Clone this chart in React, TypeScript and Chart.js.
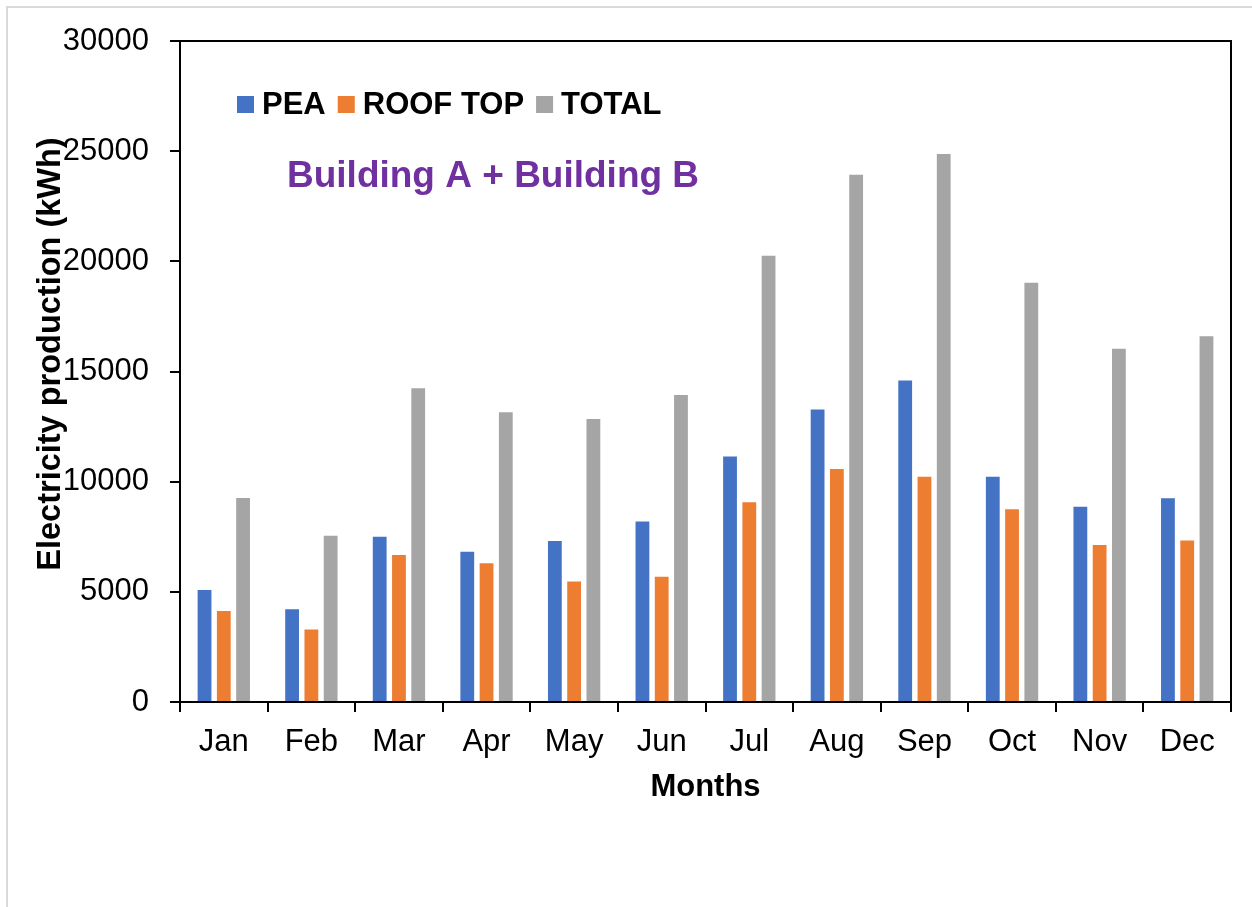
import React, { useEffect, useRef } from "react";
import { Chart, registerables } from "chart.js";

Chart.register(...registerables);

const months = ["Jan", "Feb", "Mar", "Apr", "May", "Jun", "Jul", "Aug", "Sep", "Oct", "Nov", "Dec"];
const peaValues = [5130, 4250, 7550, 6870, 7350, 8240, 11190, 13320, 14640, 10270, 8910, 9290];
const roofTopValues = [4170, 3340, 6720, 6340, 5520, 5730, 9110, 10620, 10270, 8790, 7170, 7380];
const totalValues = [9300, 7590, 14280, 13200, 12890, 13980, 20300, 23970, 24920, 19070, 16080, 16650];
const yTickValues = [0, 5000, 10000, 15000, 20000, 25000, 30000];
const seriesNames = ["PEA", "ROOF TOP", "TOTAL"];
const seriesColors = ["#4472C4", "#ED7D31", "#A5A5A5"];
const chartSubtitle = "Building A + Building B";
const yTitle = "Electricity production (kWh)";
const xTitle = "Months";

const FONT = "'Liberation Sans', Arial, sans-serif";

const overlayPlugin = {
  id: "overlay",
  afterDraw(chart: any) {
    const ctx = chart.ctx;
    const a = chart.chartArea;
    ctx.save();
    // plot box
    ctx.strokeStyle = "#000";
    ctx.lineWidth = 2;
    ctx.strokeRect(a.left, a.top, a.right - a.left, a.bottom - a.top);

    // legend
    ctx.font = `bold 31px ${FONT}`;
    ctx.textBaseline = "middle";
    ctx.textAlign = "left";
    let x = 237;
    const cy = 104;
    chart.data.datasets.forEach((ds: any) => {
      ctx.fillStyle = ds.backgroundColor;
      ctx.fillRect(x, cy - 8, 17, 17);
      x += 25;
      ctx.fillStyle = "#000";
      ctx.fillText(ds.label, x, cy + 1);
      x += ctx.measureText(ds.label).width + 12;
    });

    // subtitle
    ctx.font = `bold 37px ${FONT}`;
    ctx.fillStyle = "#7030A0";
    ctx.textBaseline = "alphabetic";
    ctx.fillText(chartSubtitle, 287, 187);

    // y title
    ctx.translate(51, 354);
    ctx.rotate(-Math.PI / 2);
    ctx.font = `bold 32.5px ${FONT}`;
    ctx.fillStyle = "#000";
    ctx.textAlign = "center";
    ctx.textBaseline = "middle";
    ctx.fillText(yTitle, 0, 0);
    ctx.restore();
  },
};

export default function App() {
  const ref = useRef<HTMLCanvasElement | null>(null);

  useEffect(() => {
    if (!ref.current) return;
    const datasets = [peaValues, roofTopValues, totalValues].map((vals, i) => ({
      label: seriesNames[i],
      data: vals,
      backgroundColor: seriesColors[i],
      borderColor: "rgba(255,255,255,0.7)",
      borderWidth: 1,
      categoryPercentage: 0.66,
      barPercentage: 0.82,
    }));
    const chart = new Chart(ref.current, {
      type: "bar",
      data: { labels: months, datasets },
      options: {
        responsive: false,
        animation: false,
        devicePixelRatio: 1,
        layout: { padding: { top: 41, right: 21, left: 0, bottom: 101 } },
        plugins: {
          legend: { display: false },
          tooltip: { enabled: false },
        },
        scales: {
          x: {
            grid: {
              display: true,
              drawOnChartArea: false,
              drawTicks: true,
              tickLength: 10,
              color: "#000",
              lineWidth: 2,
              offset: true,
            },
            border: { display: true, color: "#000", width: 2 },
            ticks: { color: "#000", font: { size: 31, family: FONT }, padding: 12 },
            title: {
              display: true,
              text: xTitle,
              color: "#000",
              font: { size: 31, weight: "bold", family: FONT },
              padding: { top: 0, bottom: 0 },
            },
            afterFit: (s: any) => {
              s.height = 104;
            },
          },
          y: {
            min: 0,
            max: 30000,
            afterBuildTicks: (s: any) => {
              s.ticks = yTickValues.map((v) => ({ value: v }));
            },
            grid: {
              display: true,
              drawOnChartArea: false,
              drawTicks: true,
              tickLength: 10,
              color: "#000",
              lineWidth: 2,
            },
            border: { display: true, color: "#000", width: 2 },
            ticks: {
              color: "#000",
              font: { size: 31, family: FONT },
              padding: 21,
              callback: (v: any) => String(v),
            },
            afterFit: (s: any) => {
              s.width = 180;
            },
          },
        },
      },
      plugins: [overlayPlugin],
    });
    return () => chart.destroy();
  }, []);

  return (
    <div style={{ position: "absolute", left: 0, top: 0, width: 1252, height: 907, overflow: "hidden", background: "#fff" }}>
      <div
        style={{
          position: "absolute",
          left: 6,
          top: 6,
          width: 1400,
          height: 1100,
          border: "2px solid #d9d9d9",
          boxSizing: "border-box",
        }}
      />
      <canvas ref={ref} width={1252} height={907} style={{ position: "absolute", left: 0, top: 0, width: 1252, height: 907 }} />
    </div>
  );
}
